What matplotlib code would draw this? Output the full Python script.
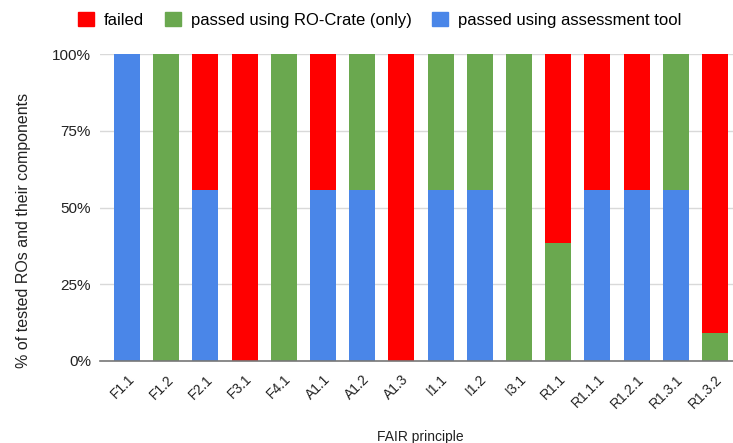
import matplotlib
matplotlib.use("Agg")
import matplotlib.pyplot as plt
from matplotlib.patches import Patch
import numpy as np

plt.rcParams['font.family'] = ['Liberation Sans', 'DejaVu Sans']

categories = ["F1.1", "F1.2", "F2.1", "F3.1", "F4.1", "A1.1", "A1.2", "A1.3",
              "I1.1", "I1.2", "I3.1", "R1.1", "R1.1.1", "R1.2.1", "R1.3.1", "R1.3.2"]
assessment_tool = [100, 0, 55.6, 0, 0, 55.6, 55.6, 0, 55.6, 55.6, 0, 0, 55.6, 55.6, 55.6, 0]
ro_crate_only = [0, 100, 0, 0, 100, 0, 44.4, 0, 44.4, 44.4, 100, 38.5, 0, 0, 44.4, 9.1]
failed = [0, 0, 44.4, 100, 0, 44.4, 0, 100, 0, 0, 0, 61.5, 44.4, 44.4, 0, 90.9]

c_blue = "#4a86e8"
c_green = "#6aa84f"
c_red = "#ff0000"

fig = plt.figure(figsize=(7.33, 4.43), dpi=100)
ax = fig.add_axes([100/733, 1-361/443, 642/733, 307/443])

x = np.arange(len(categories))
w = 0.663
a = np.array(assessment_tool)
g = np.array(ro_crate_only)
r = np.array(failed)
ax.bar(x, a, w, color=c_blue, zorder=3)
ax.bar(x, g, w, bottom=a, color=c_green, zorder=3)
ax.bar(x, r, w, bottom=a + g, color=c_red, zorder=3)

ax.set_xlim(-0.69, 15.69)
ax.set_ylim(0, 100)
ax.set_yticks([0, 25, 50, 75, 100])
ax.set_yticklabels(["0%", "25%", "50%", "75%", "100%"], fontsize=11, color="#222222")
ax.grid(axis="y", color="#d9d9d9", linewidth=1, zorder=0)
ax.set_xticks(x)
ax.set_xticklabels(categories, rotation=45, ha="right", rotation_mode="anchor",
                   fontsize=10, color="#222222")
for s in ["top", "right", "left"]:
    ax.spines[s].set_visible(False)
ax.spines["bottom"].set_color("#777777")
ax.spines["bottom"].set_linewidth(1.2)
ax.spines["bottom"].set_zorder(4)
ax.tick_params(axis="y", length=0, pad=6.5)
ax.tick_params(axis="x", length=0, pad=8)

fig.text(24/733, 1-230/443, "% of tested ROs and their components", rotation=90,
         ha="center", va="center", fontsize=11.5, color="#222222")
fig.text(420/733, 1-437/443, "FAIR principle", ha="center", va="center",
         fontsize=10, color="#222222")

handles = [Patch(color=c_red, label="failed"),
           Patch(color=c_green, label="passed using RO-Crate (only)"),
           Patch(color=c_blue, label="passed using assessment tool")]
fig.legend(handles=handles, loc="center left", bbox_to_anchor=(78/733, 1-20/443), ncol=3,
           frameon=False, fontsize=12, handlelength=0.95, handleheight=0.95,
           columnspacing=1.25, handletextpad=0.6, borderpad=0, borderaxespad=0)

fig.savefig("out.png", dpi=100)
